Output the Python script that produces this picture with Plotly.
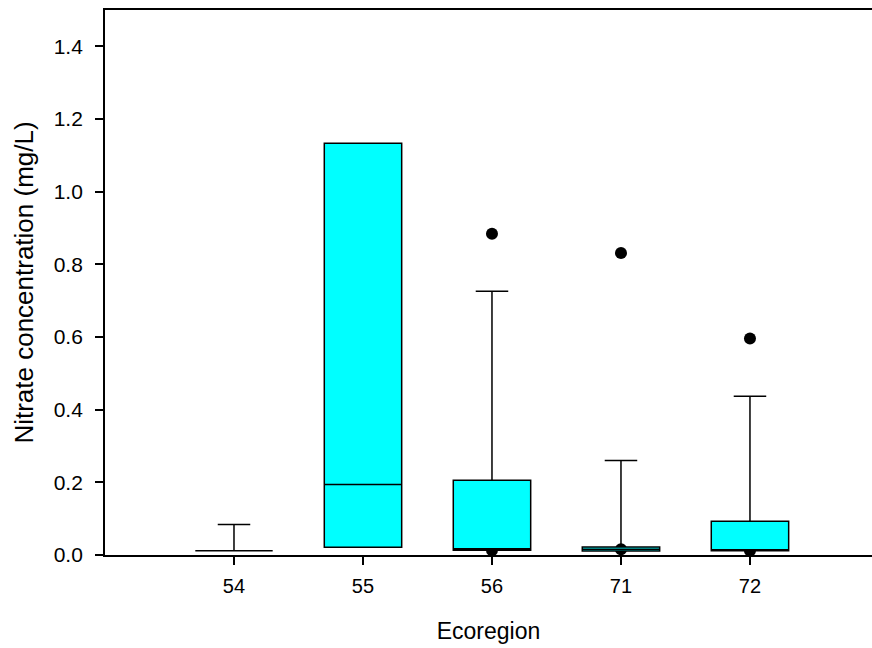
import plotly.graph_objects as go

categories = ["54", "55", "56", "71", "72"]
q1 = [0.012, 0.021, 0.013, 0.011, 0.012]
median = [0.012, 0.194, 0.017, 0.016, 0.013]
q3 = [0.012, 1.133, 0.206, 0.022, 0.093]
lower = [0.012, 0.021, 0.013, 0.011, 0.012]
upper = [0.084, 1.133, 0.726, 0.260, 0.437]

outlier_x = ["56", "56", "71", "71", "72", "72"]
outlier_y = [0.884, 0.013, 0.831, 0.016, 0.596, 0.012]

FONT = "Liberation Sans, Arial, sans-serif"

fig = go.Figure()

# outlier points on the base subplot (drawn beneath the boxes)
fig.add_trace(go.Scatter(
    x=outlier_x, y=outlier_y, mode="markers",
    marker=dict(color="black", size=12),
    xaxis="x", yaxis="y", showlegend=False, hoverinfo="y",
))

# boxes on an overlaid subplot
fig.add_trace(go.Box(
    x=categories, q1=q1, median=median, q3=q3,
    lowerfence=lower, upperfence=upper,
    width=0.6, whiskerwidth=0.42,
    fillcolor="#00FFFF", line=dict(color="black", width=1.5),
    boxpoints=False, showlegend=False,
    xaxis="x2", yaxis="y2",
))

xr = [-1, 4.946]
yr = [0, 1.5]

fig.update_layout(
    width=872, height=648,
    margin=dict(l=105, r=0, t=10, b=93),
    paper_bgcolor="white", plot_bgcolor="white",
    font=dict(family=FONT, size=20, color="black"),
    xaxis=dict(
        type="category", categoryorder="array", categoryarray=categories,
        range=xr, showline=True, linecolor="black", linewidth=1.8,
        mirror=True, ticks="outside", ticklen=8, tickwidth=1.5,
        tickcolor="black", showgrid=False, zeroline=False,
        tickfont=dict(size=20), ticklabelstandoff=4,
        title=dict(text="Ecoregion", font=dict(size=23), standoff=27),
    ),
    yaxis=dict(
        range=yr, showline=True, linecolor="black", linewidth=1.8,
        ticks="outside", ticklen=8, tickwidth=1.5, tickcolor="black",
        tickvals=[0, 0.2, 0.4, 0.6, 0.8, 1.0, 1.2, 1.4],
        tickformat=".1f", showgrid=False, zeroline=False,
        tickfont=dict(size=21), ticklabelstandoff=8,
        title=dict(text="Nitrate concentration (mg/L)", font=dict(size=26), standoff=13),
    ),
    xaxis2=dict(
        type="category", categoryorder="array", categoryarray=categories,
        range=xr, overlaying="x", visible=False,
    ),
    yaxis2=dict(range=yr, overlaying="y", visible=False),
)

fig.write_html(
    "out.html",
    config={"displayModeBar": False},
    post_script="document.body.style.margin='0';document.body.style.overflow='hidden';",
)
